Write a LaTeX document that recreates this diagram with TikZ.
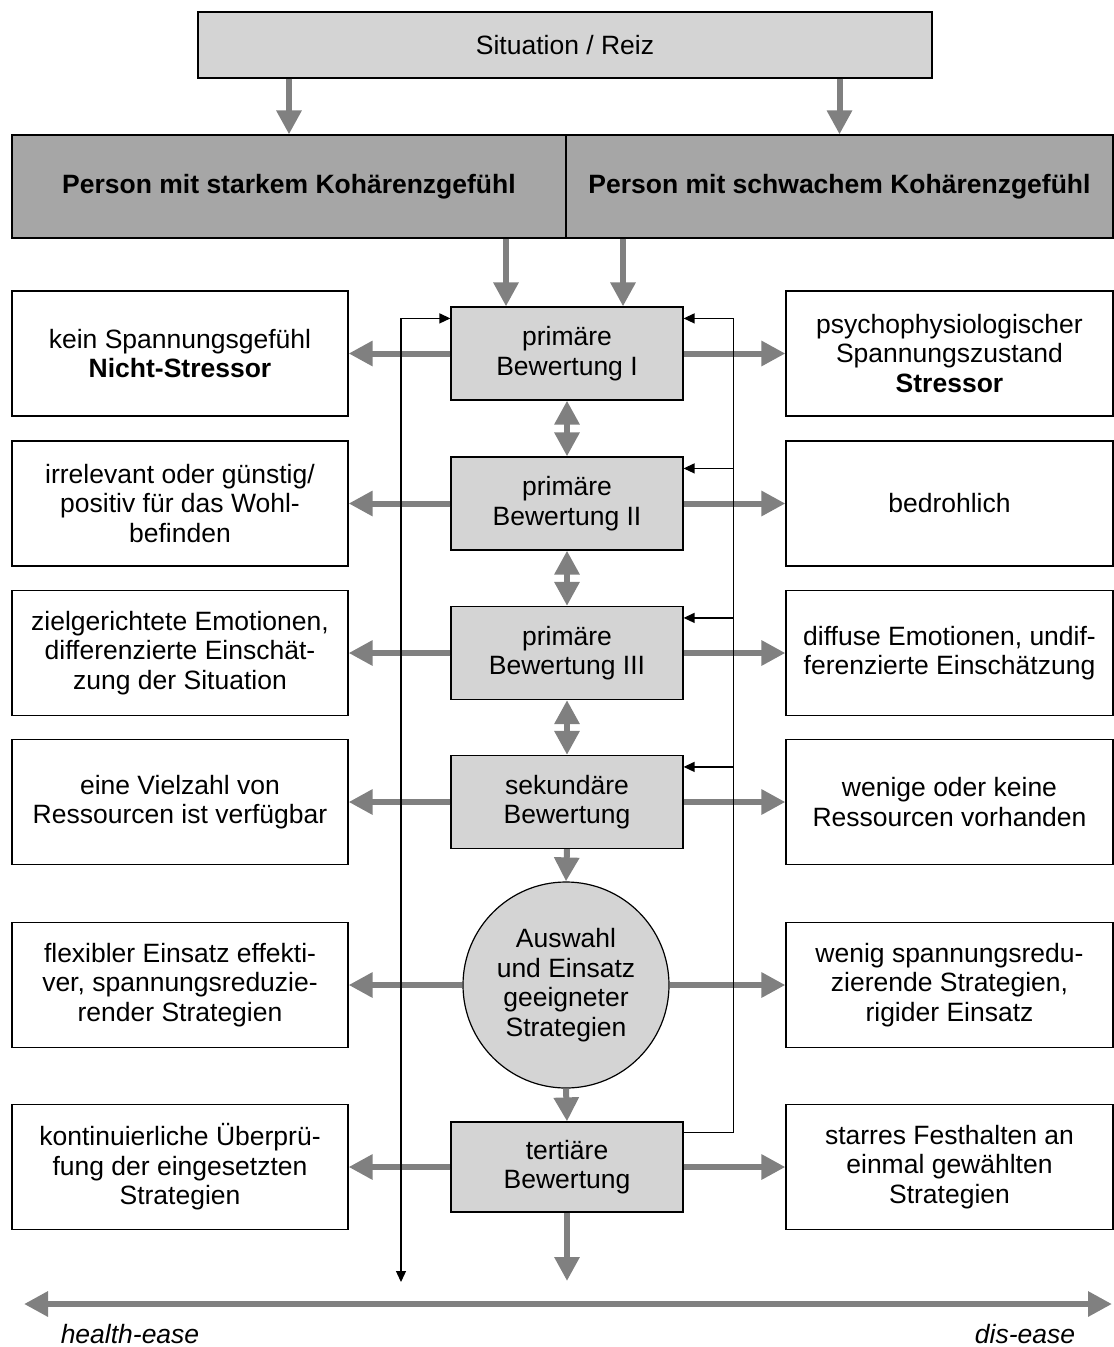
\documentclass[tikz,border=0pt]{standalone}
\usepackage{fontspec}
\setmainfont{Liberation Sans}
\usetikzlibrary{arrows.meta}
\definecolor{boxgray}{HTML}{D4D4D4}
\definecolor{persgray}{HTML}{A6A6A6}
\definecolor{arrgray}{HTML}{808080}

\begin{document}
\begin{tikzpicture}[x=1pt, y=-1pt, font=\fontsize{26.5}{29.5}\selectfont,
    gtip/.tip = {Triangle[length=24pt, width=24pt]},
    ktip/.tip = {Triangle[length=11pt, width=10pt]},
    grayarrow/.style = {line width=6pt, draw=arrgray, -gtip},
    graydouble/.style = {line width=6pt, draw=arrgray, gtip-gtip},
    fbarrow/.style = {line width=1.3pt, -ktip},
    evalbox/.style = {draw, line width=1.2pt, fill=boxgray, align=center, inner sep=0pt, minimum width=232pt, minimum height=93pt},
    sidebox/.style = {draw, line width=1.2pt, fill=white, align=center, inner sep=0pt, minimum height=125pt},
    persbox/.style = {draw, line width=1.2pt, fill=persgray, inner sep=0pt, minimum height=103pt, font=\fontsize{26.5}{29.5}\selectfont\bfseries},
    poletext/.style = {inner sep=0pt, font=\fontsize{26.5}{29.5}\selectfont\itshape}]

    \useasboundingbox (0,0) rectangle (1114,1347);

    % top
    \node[draw, line width=1.2pt, fill=boxgray, inner sep=0pt, minimum width=734pt, minimum height=66pt] (sit) at (565,45) {Situation / Reiz};
    \node[persbox, minimum width=554pt] (pl) at (289,186.5) {Person mit starkem Kohärenzgefühl};
    \node[persbox, minimum width=547pt] (pr) at (839.5,186.5) {Person mit schwachem Kohärenzgefühl};

    % evaluation chain
    \node[evalbox] (c1) at (567,353.5) {primäre\\Bewertung I};
    \node[evalbox] (c2) at (567,503.5) {primäre\\Bewertung II};
    \node[evalbox] (c3) at (567,653) {primäre\\Bewertung III};
    \node[evalbox] (c4) at (567,802) {sekundäre\\Bewertung};
    \node[draw, line width=1.2pt, fill=boxgray, circle, align=center, inner sep=0pt, minimum size=206pt] (c5) at (566,985) {Auswahl\\und Einsatz\\geeigneter\\Strategien};
    \node[evalbox, minimum height=90pt] (c6) at (567,1167) {tertiäre\\Bewertung};

    % strong side
    \node[sidebox, minimum width=336pt] (l1) at (180,353.5) {kein Spannungsgefühl\\\textbf{Nicht-Stressor}};
    \node[sidebox, minimum width=336pt] (l2) at (180,503.5) {irrelevant oder günstig/\\positiv für das Wohl-\\befinden};
    \node[sidebox, minimum width=336pt] (l3) at (180,653) {zielgerichtete Emotionen,\\differenzierte Einschät-\\zung der Situation};
    \node[sidebox, minimum width=336pt] (l4) at (180,802) {eine Vielzahl von\\Ressourcen ist verfügbar};
    \node[sidebox, minimum width=336pt] (l5) at (180,985) {flexibler Einsatz effekti-\\ver, spannungsreduzie-\\render Strategien};
    \node[sidebox, minimum width=336pt] (l6) at (180,1167) {kontinuierliche Überprü-\\fung der eingesetzten\\Strategien};

    % weak side
    \node[sidebox, minimum width=327pt] (r1) at (949.5,353.5) {psychophysiologischer\\Spannungszustand\\\textbf{Stressor}};
    \node[sidebox, minimum width=327pt] (r2) at (949.5,503.5) {bedrohlich};
    \node[sidebox, minimum width=327pt] (r3) at (949.5,653) {diffuse Emotionen, undif-\\ferenzierte Einschätzung};
    \node[sidebox, minimum width=327pt] (r4) at (949.5,802) {wenige oder keine\\Ressourcen vorhanden};
    \node[sidebox, minimum width=327pt] (r5) at (949.5,985) {wenig spannungsredu-\\zierende Strategien,\\rigider Einsatz};
    \node[sidebox, minimum width=327pt] (r6) at (949.5,1167) {starres Festhalten an\\einmal gewählten\\Strategien};

    % thick arrows
    \draw[grayarrow] (sit.south -| pl) -- (pl.north);
    \draw[grayarrow] (sit.south -| pr) -- (pr.north);
    \draw[grayarrow] ([xshift=-61pt]c1.north |- pl.south) -- ([xshift=-61pt]c1.north);
    \draw[grayarrow] ([xshift=56pt]c1.north |- pl.south) -- ([xshift=56pt]c1.north);
    \foreach \i/\j in {1/2,2/3,3/4}
        \draw[graydouble] (c\i.south) -- (c\j.north);
    \draw[grayarrow] (c4.south) -- (c5.north);
    \draw[grayarrow] (c5.south) -- (c6.north);
    \coordinate (out) at (567,1281);
    \draw[grayarrow] (c6.south) -- (out);
    \foreach \i in {1,...,6} {
        \draw[grayarrow] (c\i) -- (l\i);
        \draw[grayarrow] (c\i) -- (r\i);
    }

    % feedback
    \coordinate (fbend) at (401,1282);
    \draw[fbarrow, ktip-ktip] ([yshift=-12pt]c1.north west) -| (fbend);
    \draw[fbarrow] ([yshift=-11pt]c6.north east) -- ++(50,0) coordinate (rr) |- ([yshift=-12pt]c1.north east);
    \foreach \i in {2,3,4} {
        \coordinate (in\i) at ([yshift=-12pt]c\i.north east);
        \draw[fbarrow] (rr |- in\i) -- (in\i);
    }

    % health-ease / dis-ease
    \coordinate (he) at (24,1304);
    \coordinate (de) at (1112,1304);
    \draw[graydouble] (he) -- (de);
    \node[poletext] (hetext) at (130,1334) {health-ease};
    \node[poletext] (detext) at (1025,1334) {dis-ease};
\end{tikzpicture}
\end{document}
